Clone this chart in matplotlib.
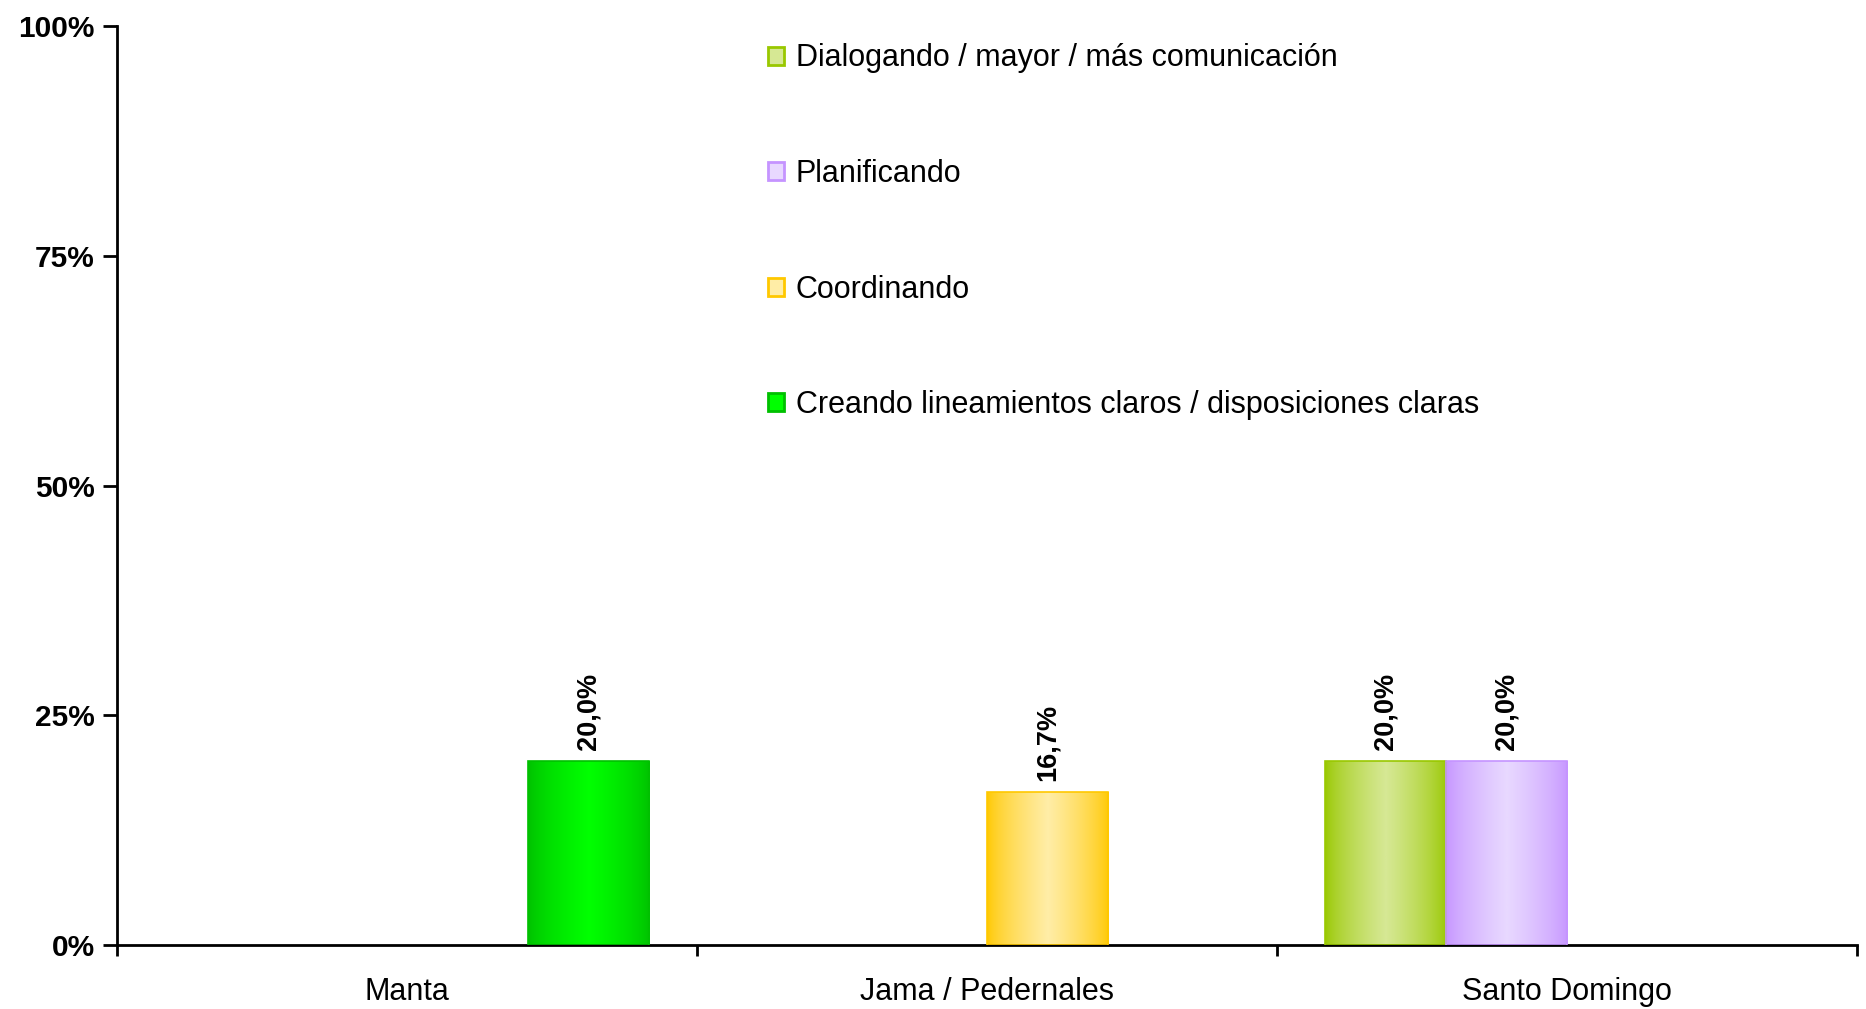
import numpy as np
import matplotlib
matplotlib.use('Agg')
import matplotlib.pyplot as plt
from matplotlib.patches import Rectangle
from matplotlib.colors import LinearSegmentedColormap

plt.rcParams['font.family'] = ['Liberation Sans', 'DejaVu Sans']

categories = ['Manta', 'Jama / Pedernales', 'Santo Domingo']
series = ['Dialogando / mayor / más comunicación',
          'Planificando',
          'Coordinando',
          'Creando lineamientos claros / disposiciones claras']
# percent values per series, one per category (0 = no bar)
dialogando = [0.0, 0.0, 20.0]
planificando = [0.0, 0.0, 20.0]
coordinando = [0.0, 16.7, 0.0]
creando = [20.0, 0.0, 0.0]
values = [dialogando, planificando, coordinando, creando]

# (edge colour, centre colour) of each bar's horizontal gradient
grad_colors = [('#99c800', '#d6e894'),
               ('#c594ff', '#e8d8ff'),
               ('#ffc800', '#ffeda6'),
               ('#00c000', '#00ff00')]

fig = plt.figure(figsize=(18.66, 10.09), dpi=100)
ax = fig.add_axes([0.0627, 0.0634, 0.9325, 0.9108])

width = 0.209
x = np.arange(len(categories))
ramp = np.concatenate([np.linspace(0, 1, 50), np.linspace(1, 0, 50)]) ** 0.7
ramp = ramp.reshape(1, -1)

for i, (vals, (c_edge, c_mid)) in enumerate(zip(values, grad_colors)):
    cmap = LinearSegmentedColormap.from_list('g%d' % i, [c_edge, c_mid])
    offs = x + (i - 1.5) * width
    for xc, v in zip(offs, vals):
        if v <= 0:
            continue
        x0 = xc - width / 2
        rect = Rectangle((x0, 0), width, v, facecolor='none',
                         edgecolor=c_edge, lw=1.2, zorder=3)
        ax.add_patch(rect)
        im = ax.imshow(ramp, cmap=cmap, aspect='auto',
                       extent=(x0, x0 + width, 0, v), zorder=2,
                       interpolation='bilinear')
        im.set_clip_path(rect)
        ax.text(xc, v + 1.2, ('%.1f%%' % v).replace('.', ','),
                rotation=90, ha='center', va='bottom',
                fontsize=19.5, fontweight='bold', zorder=4)

ax.set_xlim(-0.5, 2.5)
ax.set_ylim(0, 100)
ax.set_aspect('auto')

ax.set_yticks([0, 25, 50, 75, 100])
ax.set_yticklabels(['0%', '25%', '50%', '75%', '100%'],
                   fontsize=21.5, fontweight='bold')
ax.tick_params(axis='y', direction='out', length=10, width=2, pad=6)

ax.set_xticks([-0.5, 0.5, 1.5, 2.5])
ax.set_xticklabels([])
ax.tick_params(axis='x', which='major', direction='out', length=8, width=2)
ax.set_xticks(x, minor=True)
ax.set_xticklabels(categories, minor=True, fontsize=22)
ax.tick_params(axis='x', which='minor', length=0, pad=23)

for s in ['top', 'right']:
    ax.spines[s].set_visible(False)
for s in ['left', 'bottom']:
    ax.spines[s].set_linewidth(2)

handles = [Rectangle((0, 0), 1, 1, facecolor=cm, edgecolor=ce, lw=2)
           for ce, cm in grad_colors]
leg = ax.legend(handles, series, loc='upper left',
                bbox_to_anchor=(0.374, 0.981), frameon=False,
                fontsize=22, borderpad=0, borderaxespad=0,
                handlelength=0.52, handleheight=0.52, handletextpad=0.4,
                labelspacing=2.8)

fig.savefig('out.png', dpi=100)
